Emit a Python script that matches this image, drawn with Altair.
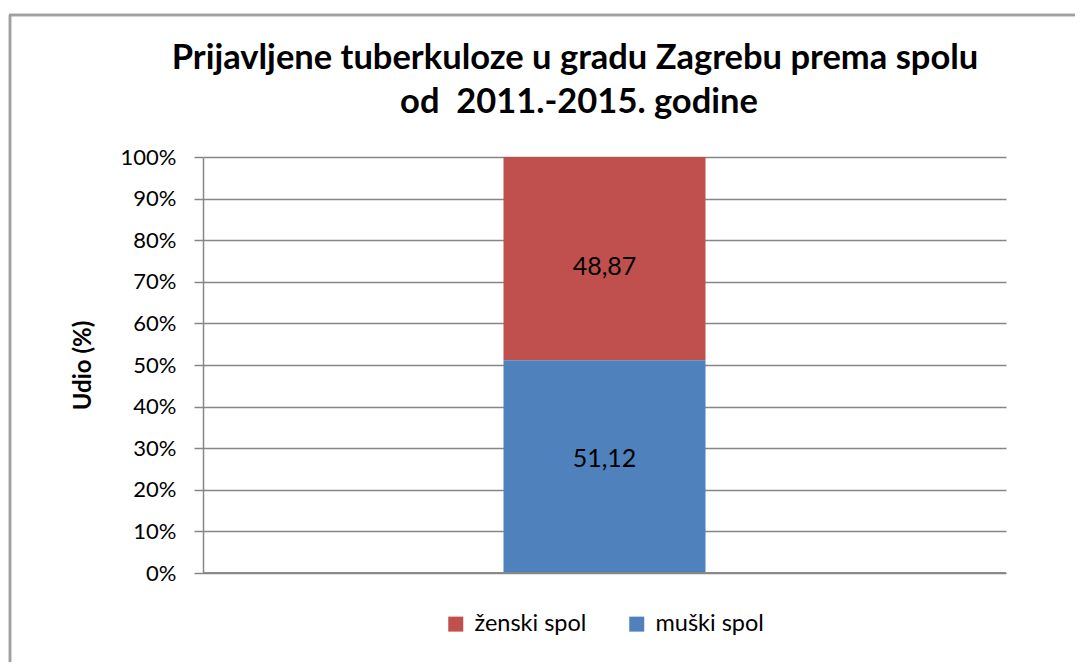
import altair as alt
import pandas as pd

categories = ["2011.-2015."]
series = ["ženski spol", "muški spol"]
values = [48.87, 51.12]
labels = ["48,87", "51,12"]
order = [2, 1]
colors = ["#C0504D", "#4F81BD"]
title_lines = ["Prijavljene tuberkuloze u gradu Zagrebu prema spolu",
               "od \u00a02011.-2015. godine"]

df = pd.DataFrame({
    "kat": categories * len(series),
    "spol": series,
    "udio": values,
    "label": labels,
    "ord": order,
})

FONT = "Lato"
GRID = "#868686"

base = alt.Chart(df)

bars = base.mark_bar().encode(
    x=alt.X("kat:N", axis=None,
            scale=alt.Scale(paddingInner=0.3278, paddingOuter=1)),
    y=alt.Y("udio:Q", stack="normalize",
            scale=alt.Scale(domain=[0, 1]),
            axis=alt.Axis(format="%", values=[i / 10 for i in range(11)],
                          title="Udio (%)", titleFont=FONT, titleFontSize=24,
                          titleFontWeight="bold", titleColor="black",
                          titlePadding=25,
                          labelFont=FONT, labelFontSize=22, labelColor="black",
                          labelPadding=18, tickSize=9, tickColor=GRID,
                          domainColor=GRID, gridColor=GRID, gridWidth=1.5,
                          domainWidth=1.5, tickWidth=1.5)),
    color=alt.Color("spol:N",
                    scale=alt.Scale(domain=series, range=colors),
                    legend=alt.Legend(title=None, orient="none",
                                      direction="horizontal",
                                      legendX=241, legendY=455,
                                      symbolType="square", symbolSize=225,
                                      symbolStrokeWidth=0,
                                      labelFont=FONT, labelFontSize=23.5,
                                      labelColor="black", labelOffset=7,
                                      columnPadding=38)),
    order=alt.Order("ord:Q"),
)

stacked = base.transform_stack(
    stack="udio", groupby=["kat"], as_=["y0", "y1"], offset="normalize",
    sort=[alt.SortField("ord")]
).transform_calculate(
    mid="(datum.y0 + datum.y1) / 2"
)

text_top = stacked.transform_filter(alt.datum.ord == 2).mark_text(
    font=FONT, fontSize=25, color="black", dy=8
).encode(x=alt.X("kat:N"), y=alt.Y("mid:Q"), text="label:N")

text_bottom = stacked.transform_filter(alt.datum.ord == 1).mark_text(
    font=FONT, fontSize=25, color="black", dy=-8
).encode(x=alt.X("kat:N"), y=alt.Y("mid:Q"), text="label:N")

xaxis_line = alt.Chart(df).mark_rule(color=GRID, strokeWidth=1.5).encode(
    x=alt.value(0), x2=alt.value(803), y=alt.value(416)
)

frame_left = alt.Chart(df).mark_rule(color="#A0A0A0", strokeWidth=2.5).encode(
    x=alt.value(-193), y=alt.value(-142), y2=alt.value(520)
)
frame_top = alt.Chart(df).mark_rule(color="#A0A0A0", strokeWidth=2.5).encode(
    x=alt.value(-194), x2=alt.value(880), y=alt.value(-142)
)

title1 = alt.Chart(pd.DataFrame({"t": [title_lines[0]]})).mark_text(
    font=FONT, fontSize=34.5, fontWeight="bold", color="black",
    align="center", baseline="alphabetic"
).encode(x=alt.value(372), y=alt.value(-88), text="t:N")

title2 = alt.Chart(pd.DataFrame({"t": [title_lines[1]]})).mark_text(
    font=FONT, fontSize=34.5, fontWeight="bold", color="black",
    align="center", baseline="alphabetic"
).encode(x=alt.value(376), y=alt.value(-44), text="t:N")

chart = alt.layer(
    bars, text_top, text_bottom, xaxis_line, frame_left, frame_top,
    title1, title2
).properties(
    width=803, height=416,
    autosize=alt.AutoSizeParams(type="none"),
    padding={"left": 195, "top": 149, "right": 69, "bottom": 89},
).configure_view(stroke=None).configure_axis(grid=True)

chart.save("out.html", embed_options={"renderer": "svg", "actions": False})
